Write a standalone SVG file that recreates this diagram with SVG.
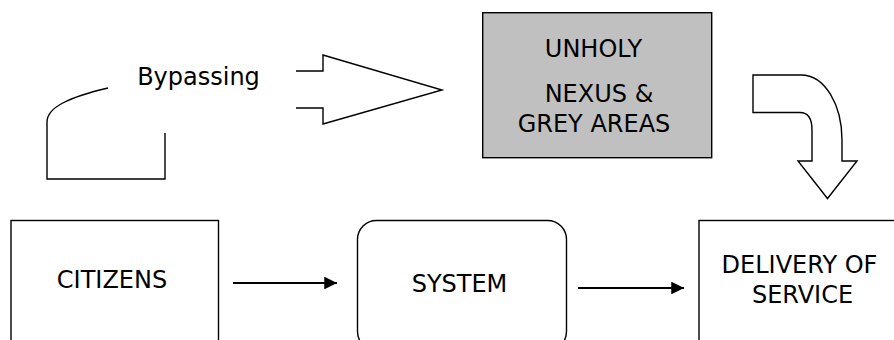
<svg xmlns="http://www.w3.org/2000/svg" width="894" height="340" viewBox="0 0 894 340">
<style>
.box{fill:#fff;stroke:#000;stroke-width:1.4}
.grey{fill:#c0c0c0;stroke:#000;stroke-width:1.4}
.shape{fill:#fff;stroke:#000;stroke-width:1.4;stroke-linejoin:miter}
.open{fill:none;stroke:#000;stroke-width:1.4}
.conn{fill:none;stroke:#000;stroke-width:2.2}
text{font-family:"DejaVu Sans",Verdana,sans-serif;font-size:24px;fill:#000;text-anchor:middle}
</style>
<defs>
<marker id="ah" viewBox="0 0 10 10" refX="10" refY="5" markerWidth="6.4" markerHeight="5.8" markerUnits="strokeWidth" orient="auto">
<path d="M0 0 L10 5 L0 10 Z" fill="#000"/>
</marker>
</defs>
<rect width="894" height="340" fill="#fff"/>
<g id="bypass">
<path class="open" d="M108 88 C70 97 47 107 47 122 V179 H165 V133"/>
<text x="198.5" y="85">Bypassing</text>
<path class="open" d="M296 71 H323 V55 L442 90 L323 124 V108 H296"/>
</g>
<g id="unholy">
<rect class="grey" x="482.7" y="12.7" width="229" height="145"/>
<text x="593.5" y="57">UNHOLY</text>
<text x="599" y="102">NEXUS &amp;</text>
<text x="594" y="132">GREY AREAS</text>
</g>
<g id="curved-arrow">
<path class="shape" d="M753 75 H801 C825 75 842 105 842 140 V161 H857 L827.5 198.5 L798 161 H812 V130 C812 119 808 112.5 800 112.5 H753 Z"/>
</g>
<g id="citizens">
<rect class="box" x="11" y="220.5" width="207.5" height="130"/>
<text x="112" y="288">CITIZENS</text>
</g>
<g id="system">
<rect class="box" x="357.5" y="220.5" width="209" height="130" rx="19" ry="19"/>
<text x="459.5" y="292">SYSTEM</text>
</g>
<g id="delivery">
<rect class="box" x="699" y="220.5" width="210" height="130"/>
<text x="799.5" y="273">DELIVERY OF</text>
<text x="802.5" y="303">SERVICE</text>
</g>
<g id="connectors">
<line class="conn" x1="233" y1="283" x2="337" y2="283" marker-end="url(#ah)"/>
<line class="conn" x1="578" y1="288" x2="684" y2="288" marker-end="url(#ah)"/>
</g>
</svg>
